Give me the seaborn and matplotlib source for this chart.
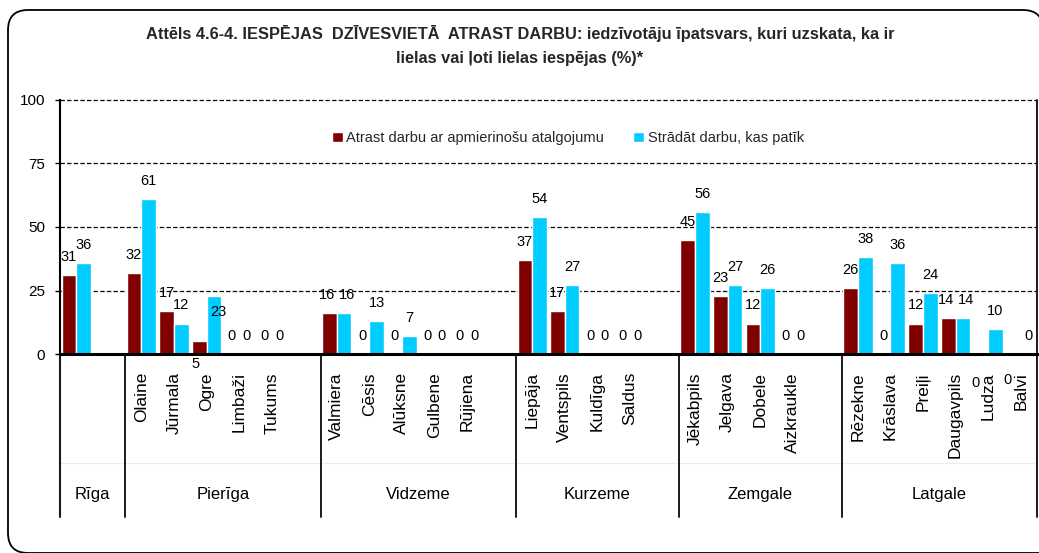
import matplotlib
matplotlib.use("Agg")
import matplotlib.pyplot as plt
from matplotlib.patches import PathPatch
from matplotlib.path import Path
from matplotlib.transforms import blended_transform_factory
import pandas as pd
import seaborn as sns

# ---- data -------------------------------------------------------------
regions = ["Rīga", "Pierīga", "Vidzeme", "Kurzeme", "Zemgale", "Latgale"]
cities = ["Rīga",
          "Olaine", "Jūrmala", "Ogre", "Limbaži", "Tukums",
          "Valmiera", "Cēsis", "Alūksne", "Gulbene", "Rūjiena",
          "Liepāja", "Ventspils", "Kuldīga", "Saldus",
          "Jēkabpils", "Jelgava", "Dobele", "Aizkraukle",
          "Rēzekne", "Krāslava", "Preiļi", "Daugavpils", "Ludza", "Balvi"]
city_region = ["Rīga",
               "Pierīga", "Pierīga", "Pierīga", "Pierīga", "Pierīga",
               "Vidzeme", "Vidzeme", "Vidzeme", "Vidzeme", "Vidzeme",
               "Kurzeme", "Kurzeme", "Kurzeme", "Kurzeme",
               "Zemgale", "Zemgale", "Zemgale", "Zemgale",
               "Latgale", "Latgale", "Latgale", "Latgale", "Latgale", "Latgale"]
series_names = ["Atrast darbu ar apmierinošu atalgojumu", "Strādāt darbu, kas patīk"]
pay_share = [31, 32, 17, 5, 0, 0, 16, 0, 0, 0, 0, 37, 17, 0, 0,
             45, 23, 12, 0, 26, 0, 12, 14, 0, 0]
liked_share = [36, 61, 12, 23, 0, 0, 16, 13, 7, 0, 0, 54, 27, 0, 0,
               56, 27, 26, 0, 38, 36, 24, 14, 10, 0]
y_ticks = [0, 25, 50, 75, 100]
title_lines = ["Attēls 4.6-4. IESPĒJAS  DZĪVESVIETĀ  ATRAST DARBU: iedzīvotāju īpatsvars, kuri uzskata, ka ir",
               "lielas vai ļoti lielas iespējas (%)*"]

# hand-placed value labels (offsets in points, relative to default spot)
label_nudge = {("Ogre", 0): (-3, -29), ("Ogre", 1): (3.5, -25),
               ("Ludza", 0): (-4, -34), ("Balvi", 0): (-4, -32),
               ("Valmiera", 0): (-1.5, 0), ("Valmiera", 1): (2, 0),
               ("Daugavpils", 0): (-1.5, 0), ("Daugavpils", 1): (2, 0)}

colors = ["#800000", "#00CCFF"]

# ---- long table and slot order (one empty slot closes each region) ----
df = pd.DataFrame({
    "city": cities * 2,
    "series": [series_names[0]] * len(cities) + [series_names[1]] * len(cities),
    "value": pay_share + liked_share,
})

order, tick_text, spans = [], [], []
for gi, reg in enumerate(regions):
    start = len(order) - 0.5
    for c, r in zip(cities, city_region):
        if r == reg:
            order.append(c)
            tick_text.append("" if c == reg else c)
    if gi < len(regions) - 1:
        order.append(" " * (gi + 1))
        tick_text.append("")
    spans.append((reg, start, len(order) - 0.5))

# ---- figure ------------------------------------------------------------
sns.set_theme(style="white")
plt.rcParams["font.family"] = ["Liberation Sans", "DejaVu Sans"]

W, H = 1039, 553
fig = plt.figure(figsize=(W / 100, H / 100), dpi=100)
ax = fig.add_axes([60 / W, 199 / H, 977 / W, 254 / H])

sns.barplot(data=df, x="city", y="value", hue="series", order=order,
            hue_order=series_names, palette=colors, width=0.9, saturation=1,
            errorbar=None, ax=ax, zorder=2)

ax.set_xlim(-0.5, len(order) - 0.5)
ax.set_ylim(0, 100)
ax.set_xlabel("")
ax.set_ylabel("")

# dashed grid
for yv in y_ticks[1:]:
    ax.axhline(yv, color="black", lw=0.9, ls=(0, (3.5, 1.8)), zorder=1, clip_on=False)

ax.set_yticks(y_ticks)
ax.set_yticklabels([str(v) for v in y_ticks])
ax.tick_params(axis="y", left=True, length=3.6, width=1, color="black",
               pad=7, labelsize=11, labelcolor="black")
ax.set_xticks(range(len(order)))
ax.set_xticklabels(tick_text)
ax.tick_params(axis="x", bottom=False, length=0, pad=13, labelsize=12.5,
               labelrotation=90, labelcolor="black")

for s in ["top", "right"]:
    ax.spines[s].set_visible(False)
ax.spines["left"].set_color("black")
ax.spines["left"].set_linewidth(1.5)
ax.spines["bottom"].set_color("black")
ax.spines["bottom"].set_linewidth(2.2)
ax.spines["bottom"].set_zorder(3)

# region table below the axis
trans = blended_transform_factory(ax.transData, ax.transAxes)
table_bottom = -0.642
ax.plot([-0.5, len(order) - 0.5], [-0.429, -0.429], transform=trans,
        color="#ececec", lw=0.8, clip_on=False)
bounds = sorted({b for _, a, e in spans for b in (a, e)})
for b in bounds:
    top = 1.0 if b == bounds[-1] else 0.0
    ax.plot([b, b], [table_bottom, top], transform=trans, color="#1a1a1a",
            lw=1.4 if b != bounds[0] else 1.5, clip_on=False, zorder=3)
for reg, a, e in spans:
    ax.text((a + e) / 2, -0.555, reg, transform=trans, ha="center",
            va="center", fontsize=12, color="black")

# value labels
for si, cont in enumerate(ax.containers):
    for bar in cont:
        cx = bar.get_x() + bar.get_width() / 2
        h = bar.get_height()
        name = order[int(round(cx))]
        dx, dy = label_nudge.get((name, si), (0, 0))
        ax.annotate(f"{h:.0f}", xy=(cx, h), xytext=(dx, 13 + dy),
                    textcoords="offset points", ha="center", va="center",
                    fontsize=10.5, color="black", annotation_clip=False)

# legend
sns.move_legend(ax, loc="center", bbox_to_anchor=(568 / W, 1 - 138 / H),
                bbox_transform=fig.transFigure, ncol=2, frameon=False,
                title=None, fontsize=10.5, handlelength=0.75,
                handleheight=0.75, handletextpad=0.25, columnspacing=2.0)

# title
fig.text(520 / W, 1 - 34 / H, title_lines[0], ha="center", va="center",
         fontsize=11.8, fontweight="bold")
fig.text(520 / W, 1 - 58 / H, title_lines[1], ha="center", va="center",
         fontsize=11.8, fontweight="bold")

# rounded outer frame (pixel units, origin bottom-left); its right and
# bottom sides run along / past the canvas edge
x0, x1, y0, y1, r = 8, 1043, 0, 543, 20
verts = [(x1, y1 - r - 30), (x1, y1 - r), (x1, y1), (x1 - r, y1),
         (x0 + r, y1), (x0, y1), (x0, y1 - r),
         (x0, y0 + r), (x0, y0), (x0 + r, y0),
         (x1, y0)]
codes = [Path.MOVETO, Path.LINETO, Path.CURVE3, Path.CURVE3,
         Path.LINETO, Path.CURVE3, Path.CURVE3,
         Path.LINETO, Path.CURVE3, Path.CURVE3,
         Path.LINETO]
fig.add_artist(PathPatch(Path(verts, codes), transform=None, fill=False,
                         ec="black", lw=1.3))

fig.savefig("out.png", dpi=100, facecolor="white")
